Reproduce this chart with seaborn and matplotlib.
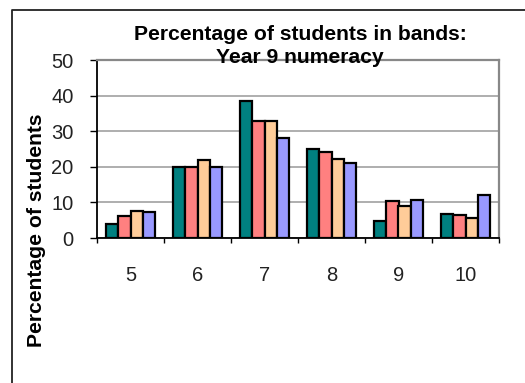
import matplotlib
matplotlib.use("Agg")
import matplotlib.pyplot as plt
import seaborn as sns
import pandas as pd
from matplotlib.ticker import FixedLocator
from matplotlib.lines import Line2D

# ---- data ----
bands = ["5", "6", "7", "8", "9", "10"]
series_names = ["Series 1", "Series 2", "Series 3", "Series 4"]
series1 = [4.0, 20.0, 38.5, 25.0, 4.8, 6.7]
series2 = [6.1, 20.0, 32.9, 24.1, 10.3, 6.5]
series3 = [7.7, 21.9, 33.0, 22.2, 9.1, 5.6]
series4 = [7.2, 20.0, 28.0, 21.0, 10.6, 12.1]
colors = ["#008080", "#FF8080", "#FFCC99", "#9999FF"]
yticks = [0, 10, 20, 30, 40, 50]
title = "Percentage of students in bands:\nYear 9 numeracy"
ylabel = "Percentage of students"

rows = []
for name, vals in zip(series_names, [series1, series2, series3, series4]):
    for b, v in zip(bands, vals):
        rows.append({"band": b, "series": name, "value": v})
df = pd.DataFrame(rows)

sns.set_theme(style="white")
plt.rcParams["font.family"] = ["Liberation Sans", "DejaVu Sans"]

fig = plt.figure(figsize=(5.25, 3.83), dpi=100)
ax = fig.add_axes([97 / 525, 1 - 238 / 383, (499 - 97) / 525, (238 - 60) / 383])

sns.barplot(data=df, x="band", y="value", hue="series", order=bands,
            hue_order=series_names, palette=colors, width=0.727,
            edgecolor="black", linewidth=1.6, legend=False, ax=ax,
            saturation=1, errorbar=None)

ax.set_xlim(-0.5, len(bands) - 0.5)
ax.set_ylim(0, 50)
ax.set_yticks(yticks)
ax.set_xlabel("")
ax.set_ylabel("")
ax.yaxis.grid(True, color="#a8a8a8", lw=1.3)
ax.xaxis.grid(False)
ax.set_axisbelow(True)

ax.xaxis.set_minor_locator(FixedLocator([i - 0.5 for i in range(len(bands) + 1)]))
ax.tick_params(axis="x", which="major", length=0, pad=20, labelsize=14.5, labelcolor="#222222")
ax.tick_params(axis="x", which="minor", bottom=True, length=3.6, width=1, color="black", direction="out")
ax.tick_params(axis="y", which="major", left=True, length=5, width=1, color="black",
               direction="out", pad=12, labelsize=14.5, labelcolor="#222222")

for s in ["left", "bottom"]:
    ax.spines[s].set_color("black")
    ax.spines[s].set_linewidth(1.3)
for s in ["top", "right"]:
    ax.spines[s].set_color("#888888")
    ax.spines[s].set_linewidth(1.6)

fig.text(37 / 525, 1 - 230 / 383, ylabel, rotation=90, ha="center", va="center",
         fontsize=15.2, fontweight="bold", color="black")
fig.text(300 / 525, 1 - 46 / 383, title, ha="center", va="center", fontsize=15.2,
         fontweight="bold", linespacing=1.3, color="black")

# outer chart border (left and top edges visible)
fig.add_artist(Line2D([12 / 525, 12 / 525, 1.0], [0.0, 1 - 10 / 383, 1 - 10 / 383],
                      transform=fig.transFigure, color="#222222", lw=1.3))

fig.savefig("out.png", dpi=100)
